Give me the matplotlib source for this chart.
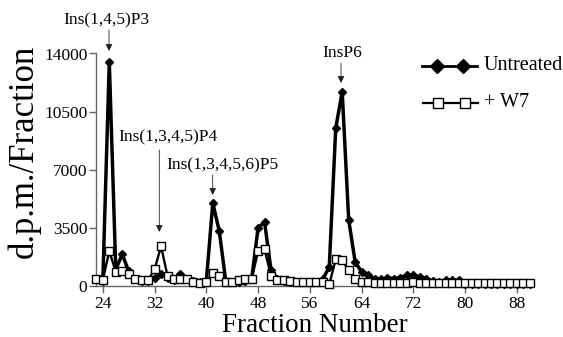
import matplotlib
matplotlib.use("Agg")
import matplotlib.pyplot as plt
from matplotlib.lines import Line2D
import numpy as np

plt.rcParams['font.family'] = ['Liberation Serif', 'DejaVu Serif']

fractions = list(range(23, 91))

untreated = [400, 300, 13500, 1000, 1900, 900, 400, 300, 300, 500,
             700, 500, 350, 700, 400, 300, 250, 300, 5000, 3300,
             300, 250, 250, 300, 400, 3500, 3850, 950, 400, 300,
             250, 250, 250, 250, 250, 400, 1150, 9500, 11700, 4000,
             1450, 850, 650, 450, 400, 500, 450, 500, 650, 650,
             550, 450, 300, 250, 350, 350, 350, 150, 150, 150,
             150, 150, 150, 150, 150, 150, 150, 150]

w7 = [450, 350, 2100, 850, 900, 700, 400, 350, 350, 1000,
      2400, 600, 400, 400, 400, 250, 200, 250, 800, 600,
      250, 250, 350, 400, 400, 2100, 2200, 600, 350, 350,
      300, 250, 250, 250, 250, 250, 100, 1600, 1550, 950,
      450, 250, 250, 200, 200, 200, 200, 200, 200, 250,
      200, 200, 200, 200, 200, 200, 200, 200, 200, 200,
      200, 200, 200, 200, 200, 200, 200, 200]

x_ticks = [24, 32, 40, 48, 56, 64, 72, 80, 88]
y_ticks = [0, 3500, 7000, 10500, 14000]
y_ticklabels = ["0", "3500", "7000", "10500", "14000"]

peak_labels = ["Ins(1,4,5)P3", "Ins(1,3,4,5)P4", "Ins(1,3,4,5,6)P5", "InsP6"]
series_names = ["Untreated", "+ W7"]

W, H = 563, 337
fig = plt.figure(figsize=(W / 100, H / 100), dpi=100)
ax = fig.add_axes([95.7 / W, (H - 286) / H, (533.7 - 95.7) / W, (286 - 53.5) / H])

ax.plot(fractions, untreated, color='black', lw=2.5, marker='D', ms=4.5,
        mfc='black', mec='black', mew=1, zorder=3, clip_on=False)
ax.plot(fractions, w7, color='black', lw=1.7, marker='s', ms=5.4,
        mfc='white', mec='black', mew=1, zorder=4, clip_on=False)

ax.set_xlim(22.9, 90.6)
ax.set_ylim(0, 14000)
ax.set_xticks(x_ticks)
ax.set_yticks(y_ticks)
ax.set_yticklabels(y_ticklabels)
for s in ['top', 'right']:
    ax.spines[s].set_visible(False)
for s in ['left', 'bottom']:
    ax.spines[s].set_color('#666666')
    ax.spines[s].set_linewidth(1.0)
ax.tick_params(axis='both', colors='#666666', labelcolor='black', length=5,
               width=1, labelsize=12.5, direction='out')
ax.tick_params(axis='x', pad=2)
ax.tick_params(axis='y', pad=1)

ax.set_xlabel("Fraction Number", fontsize=19.5, labelpad=1)
ax.set_ylabel("d.p.m./Fraction", fontsize=25)
ax.yaxis.set_label_coords(-0.125, 0.58)

def px2data(px, py):
    disp = fig.transFigure.transform((px / W, 1 - py / H))
    return ax.transData.inverted().transform(disp)

# annotations: (label, text center px, arrow x px, arrow top px, arrow bottom px)
ann = [
    (peak_labels[0], 106.7, 20, 109, 30, 51),
    (peak_labels[1], 168.3, 137, 159.3, 150, 232),
    (peak_labels[2], 222.5, 165, 212.7, 175, 195),
    (peak_labels[3], 342.5, 53, 341, 63, 83),
]
for lab, tx, ty, axp, ay0, ay1 in ann:
    p = px2data(tx, ty)
    ax.text(p[0], p[1], lab, ha='center', va='center', fontsize=12.5, clip_on=False)
    a0 = px2data(axp, ay0)
    a1 = px2data(axp, ay1)
    ax.annotate("", xy=a1, xytext=a0, annotation_clip=False,
                arrowprops=dict(arrowstyle='-|>', color='#222222', lw=0.6,
                                mutation_scale=10, shrinkA=0, shrinkB=0))

# legend drawn manually
def fx(px):
    return px / W

def fy(py):
    return 1 - py / H

fig.add_artist(Line2D([fx(421.7), fx(476.7)], [fy(65.7), fy(65.7)], color='black', lw=2))
fig.add_artist(Line2D([fx(436.7), fx(463.3)], [fy(65.7), fy(65.7)], ls='none', marker='D',
                      ms=7, mfc='black', mec='black'))
fig.text(fx(484), fy(65.7), series_names[0], fontsize=14.5, va='center', ha='left')

fig.add_artist(Line2D([fx(422.7), fx(478.3)], [fy(102.7), fy(102.7)], color='black', lw=1.6))
fig.add_artist(Line2D([fx(438.3), fx(465)], [fy(102.7), fy(102.7)], ls='none', marker='s',
                      ms=7, mfc='white', mec='black', mew=1))
fig.text(fx(484), fy(102.7), series_names[1], fontsize=14.5, va='center', ha='left')

fig.savefig("out.png", dpi=100)
